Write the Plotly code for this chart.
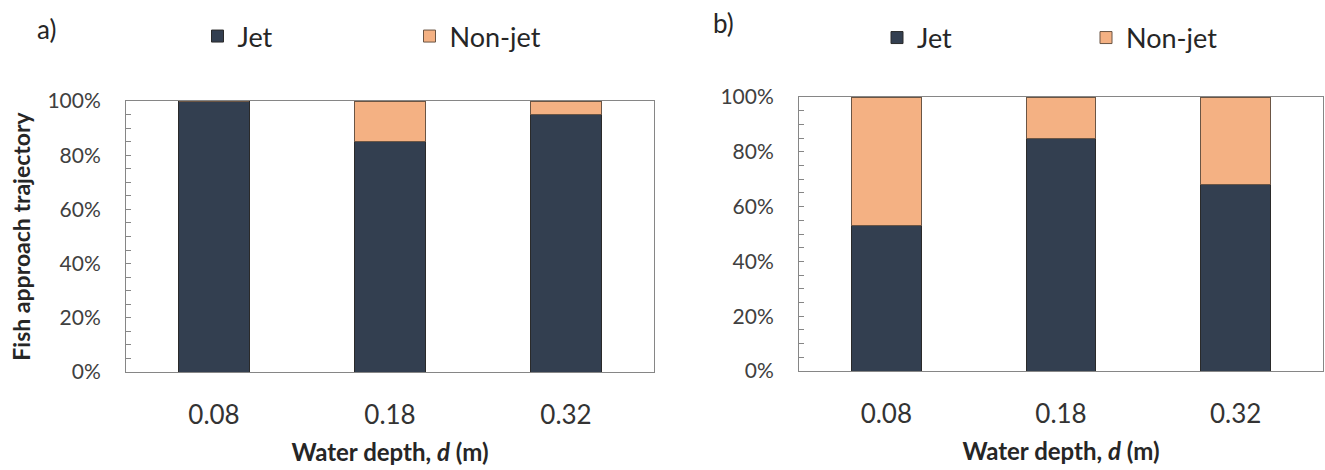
import plotly.graph_objects as go

# ---- data ----
depths = ["0.08", "0.18", "0.32"]
jet_a = [1.00, 0.85, 0.95]
nonjet_a = [0.00, 0.15, 0.05]
jet_b = [0.53, 0.85, 0.68]
nonjet_b = [0.47, 0.15, 0.32]
series_names = ["Jet", "Non-jet"]
y_ticks = [0, 0.2, 0.4, 0.6, 0.8, 1.0]

W, H = 1325, 470
FONT = "Lato"
JET_COL = "#333F50"
NON_COL = "#F4B183"
FRAME = "#868686"


def px(x):
    return x / W


def py(y):
    return 1 - y / H


fig = go.Figure()

# panel a
fig.add_trace(go.Bar(x=depths, y=jet_a, name=series_names[0], marker=dict(color=JET_COL, line=dict(color="#2a2a2a", width=1)),
                     xaxis="x", yaxis="y", legend="legend", showlegend=True))
fig.add_trace(go.Bar(x=depths, y=nonjet_a, name=series_names[1], marker=dict(color=NON_COL, line=dict(color="#6b5544", width=1)),
                     xaxis="x", yaxis="y", legend="legend2", showlegend=True))
# panel b
fig.add_trace(go.Bar(x=depths, y=jet_b, name=series_names[0], marker=dict(color=JET_COL, line=dict(color="#2a2a2a", width=1)),
                     xaxis="x2", yaxis="y2", legend="legend3", showlegend=True))
fig.add_trace(go.Bar(x=depths, y=nonjet_b, name=series_names[1], marker=dict(color=NON_COL, line=dict(color="#6b5544", width=1)),
                     xaxis="x2", yaxis="y2", legend="legend4", showlegend=True))

xaxis_common = dict(
    showline=True, linecolor=FRAME, linewidth=1, mirror=True,
    showgrid=False, ticks="", zeroline=False,
    tickfont=dict(family=FONT, size=26, color="#333333"),
    ticklabelstandoff=20, automargin=False, fixedrange=True,
)
yaxis_common = dict(
    range=[0, 1], tickvals=y_ticks, tickformat=".0%",
    showline=True, linecolor=FRAME, linewidth=1, mirror=True,
    showgrid=False, zeroline=False,
    ticks="inside", ticklen=5, tickcolor=FRAME, tickwidth=1,
    minor=dict(dtick=0.05, ticks="inside", ticklen=5, tickcolor=FRAME, tickwidth=1, showgrid=False),
    tickfont=dict(family=FONT, size=21, color="#404040"),
    ticklabelstandoff=20, automargin=False, fixedrange=True,
)

xtitle = dict(text="<b>Water depth, <i>d</i> (m)</b>", font=dict(family=FONT, size=24, color="#262626"), standoff=14)

fig.update_layout(
    width=W, height=H,
    margin=dict(l=0, r=0, t=0, b=0),
    paper_bgcolor="white", plot_bgcolor="white",
    barmode="stack", bargap=0.6,
    showlegend=True,
    font=dict(family=FONT, color="#262626"),
    xaxis=dict(domain=[px(126), px(654)], anchor="y", title=xtitle, **xaxis_common),
    yaxis=dict(domain=[py(372), py(101)], anchor="x",
               title=dict(text="<b>Fish approach trajectory</b>", font=dict(family=FONT, size=23, color="#262626"), standoff=10),
               **yaxis_common),
    xaxis2=dict(domain=[px(799), px(1323)], anchor="y2", title=xtitle, **xaxis_common),
    yaxis2=dict(domain=[py(371), py(97)], anchor="x2", **yaxis_common),
)

leg_common = dict(orientation="h", font=dict(family=FONT, size=27, color="#262626"),
                  bgcolor="rgba(0,0,0,0)", borderwidth=0, xanchor="left", yanchor="middle",
                  itemclick=False, itemdoubleclick=False, visible=True)
fig.update_layout(
    legend=dict(x=px(217.5 - 20), y=py(36.5), **leg_common),
    legend2=dict(x=px(429.5 - 20), y=py(36.5), **leg_common),
    legend3=dict(x=px(897 - 20), y=py(38), **leg_common),
    legend4=dict(x=px(1106 - 20), y=py(38), **leg_common),
)

fig.add_annotation(text="a)", x=px(35), y=py(29), xref="paper", yref="paper", xanchor="left", yanchor="middle",
                   showarrow=False, font=dict(family=FONT, size=26, color="#262626"))
fig.add_annotation(text="b)", x=px(711), y=py(23), xref="paper", yref="paper", xanchor="left", yanchor="middle",
                   showarrow=False, font=dict(family=FONT, size=26, color="#262626"))

fig.write_html("out.html")
